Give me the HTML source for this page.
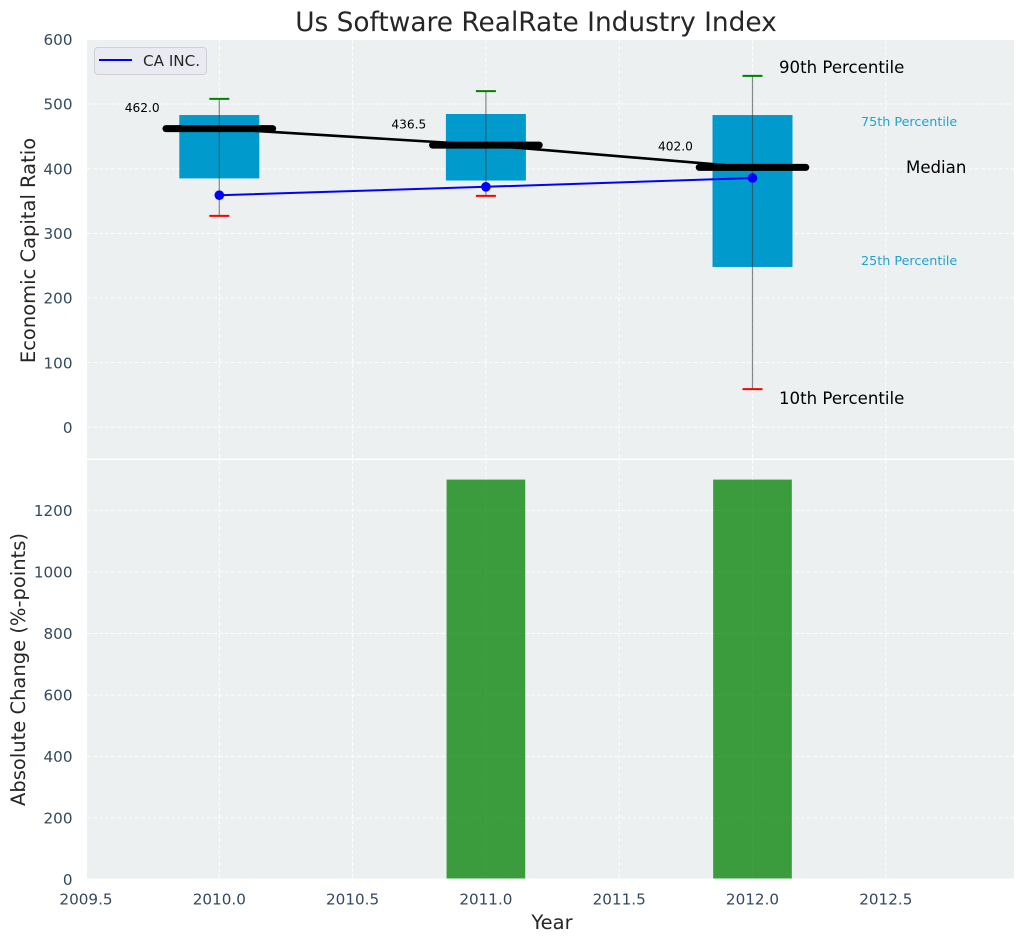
<!DOCTYPE html>
<html>
<head>
<meta charset="utf-8">
<title>Us Software RealRate Industry Index</title>
<style>
html,body{margin:0;padding:0;background:#fff;}
svg{display:block;font-family:"DejaVu Sans","Liberation Sans",sans-serif;}
</style>
</head>
<body>
<svg id="chart" xmlns="http://www.w3.org/2000/svg" width="1026" height="942" viewBox="0 0 1026 942">
  <rect x="0" y="0" width="1026" height="942" fill="#ffffff"/>
  <rect x="87" y="40" width="927" height="418.5" fill="#ecf0f1"/>
  <rect x="87" y="460" width="927" height="418.5" fill="#ecf0f1"/>
  <g id="grid"></g>
  <g id="bottom-marks"></g>
  <g id="top-marks"></g>
  <g id="ticks"></g>
  <text x="536" y="31" text-anchor="middle" font-size="26.4" fill="#262626">Us Software RealRate Industry Index</text>
  <text transform="translate(35 250.5) rotate(-90)" text-anchor="middle" font-size="19.5" fill="#262626">Economic Capital Ratio</text>
  <text transform="translate(25 669.5) rotate(-90)" text-anchor="middle" font-size="19.5" fill="#262626">Absolute Change (%-points)</text>
  <text x="552" y="929" text-anchor="middle" font-size="19.5" fill="#262626">Year</text>
  <g>
    <rect x="94.5" y="47.5" width="112" height="27" rx="3.5" fill="#eaeaf2" stroke="#d0d0d4" stroke-width="1"/>
    <line x1="99" y1="60" x2="132" y2="60" stroke="#0000ff" stroke-width="2"/>
    <text x="143" y="66" font-size="15.2" fill="#262626">CA INC.</text>
  </g>
  <text x="779" y="73" font-size="16.6" fill="#000000">90th Percentile</text>
  <text x="861" y="126" font-size="12.75" fill="#1fa3d1">75th Percentile</text>
  <text x="906" y="173" font-size="16.6" fill="#000000">Median</text>
  <text x="861" y="265" font-size="12.75" fill="#1fa3d1">25th Percentile</text>
  <text x="779" y="404" font-size="16.6" fill="#000000">10th Percentile</text>
</svg>
<script>
var years = [2010, 2011, 2012];
var p90 = [508, 520, 543.5];
var p75 = [483, 484.6, 483];
var medians = [462, 436.5, 402];
var p25 = [385, 381.7, 248];
var p10 = [327, 358, 59];
var companyValues = [359, 372, 385.6];
var changeYears = [2010, 2011, 2012];
var changeValues = [0, 1300, 1300];
var xTicks = [2009.5, 2010, 2010.5, 2011, 2011.5, 2012, 2012.5];
var topYTicks = [0, 100, 200, 300, 400, 500, 600];
var bottomYTicks = [0, 200, 400, 600, 800, 1000, 1200];

function xScale(v) { return 219.3 + (v - 2010) * 266.6; }
function yTop(v) { return 427.3 - v * 0.6465; }
function yBottom(v) { return 879.6 - v * 0.3077; }

var NS = 'http://www.w3.org/2000/svg';
var plotBottom = 878.5;
function mk(parent, tag, attrs) {
  var el = document.createElementNS(NS, tag);
  for (var k in attrs) { el.setAttribute(k, attrs[k]); }
  parent.appendChild(el);
  return el;
}
var grid = document.getElementById('grid');
var ticks = document.getElementById('ticks');
var topG = document.getElementById('top-marks');
var botG = document.getElementById('bottom-marks');
var gridStyle = { stroke: '#ffffff', 'stroke-width': 1, 'stroke-dasharray': '4 2', fill: 'none', opacity: 0.9 };
function gridLine(x1, y1, x2, y2) {
  var el = mk(grid, 'line', { x1: x1, y1: y1, x2: x2, y2: y2 });
  for (var k in gridStyle) { el.setAttribute(k, gridStyle[k]); }
  
  
}

xTicks.forEach(function (t) {
  var x = xScale(t);
  if (x > 87.5) {
    gridLine(x, 40, x, 458.5);
    gridLine(x, 460, x, 878.5);
  }
  var label = mk(ticks, 'text', { x: x, y: 904.5, 'text-anchor': 'middle', 'font-size': 15.2, fill: '#34495e' });
  
  
  label.textContent = t.toFixed(1);
});
topYTicks.forEach(function (t) {
  var y = yTop(t);
  gridLine(87, y, 1014, y);
  var label = mk(ticks, 'text', { x: 72.5, y: y + 5.6, 'text-anchor': 'end', 'font-size': 15.2, fill: '#34495e' });
  
  
  label.textContent = t;
});
bottomYTicks.forEach(function (t) {
  var y = yBottom(t);
  if (y < plotBottom) { gridLine(87, y, 1014, y); }
  var label = mk(ticks, 'text', { x: 72.5, y: y + 5.6, 'text-anchor': 'end', 'font-size': 15.2, fill: '#34495e' });
  
  
  label.textContent = t;
});

changeYears.forEach(function (yr, i) {
  if (!changeValues[i]) { return; }
  var w = 0.295 * 266.6;
  var base = Math.min(yBottom(0), plotBottom);
  var bar = mk(botG, 'rect', { x: xScale(yr) - w / 2, y: yBottom(changeValues[i]), width: w, height: base - yBottom(changeValues[i]), fill: '#008000', 'fill-opacity': 0.75 });
  
  
});

years.forEach(function (yr, i) {
  var cx = xScale(yr);
  var w = 0.3 * 266.6;
  var box = mk(topG, 'rect', { x: cx - w / 2, y: yTop(p75[i]), width: w, height: yTop(p25[i]) - yTop(p75[i]), fill: '#009acd' });
  
  
});

var medianPath = mk(topG, 'polyline', { points: years.map(function (yr, i) { return xScale(yr) + ',' + yTop(medians[i]); }).join(' '), fill: 'none', stroke: '#000000', 'stroke-width': 2.6 });



years.forEach(function (yr, i) {
  var cx = xScale(yr);
  var whisker = mk(topG, 'line', { x1: cx, y1: yTop(p90[i]), x2: cx, y2: yTop(p10[i]), stroke: '#3c3c3c', 'stroke-opacity': 0.6, 'stroke-width': 1.2 });
  
  
  var capHigh = mk(topG, 'line', { x1: cx - 10, y1: yTop(p90[i]), x2: cx + 10, y2: yTop(p90[i]), stroke: '#008000', 'stroke-width': 2 });
  
  
  var capLow = mk(topG, 'line', { x1: cx - 10, y1: yTop(p10[i]), x2: cx + 10, y2: yTop(p10[i]), stroke: '#ff0000', 'stroke-width': 2 });
  
  
  var med = mk(topG, 'line', { x1: cx - 53.3, y1: yTop(medians[i]), x2: cx + 53.3, y2: yTop(medians[i]), stroke: '#000000', 'stroke-width': 7, 'stroke-linecap': 'round' });
  
  
  var val = mk(topG, 'text', { x: cx - 94.5, y: yTop(medians[i] + 26), 'font-size': 12.2, fill: '#000000' });
  
  
  val.textContent = medians[i].toFixed(1);
});

var companyLine = mk(topG, 'polyline', { points: years.map(function (yr, i) { return xScale(yr) + ',' + yTop(companyValues[i]); }).join(' '), fill: 'none', stroke: '#0000ff', 'stroke-width': 2 });


years.forEach(function (yr, i) {
  var dot = mk(topG, 'circle', { cx: xScale(yr), cy: yTop(companyValues[i]), r: 4.8, fill: '#0000ff' });
  
  
});
</script>
</body>
</html>
